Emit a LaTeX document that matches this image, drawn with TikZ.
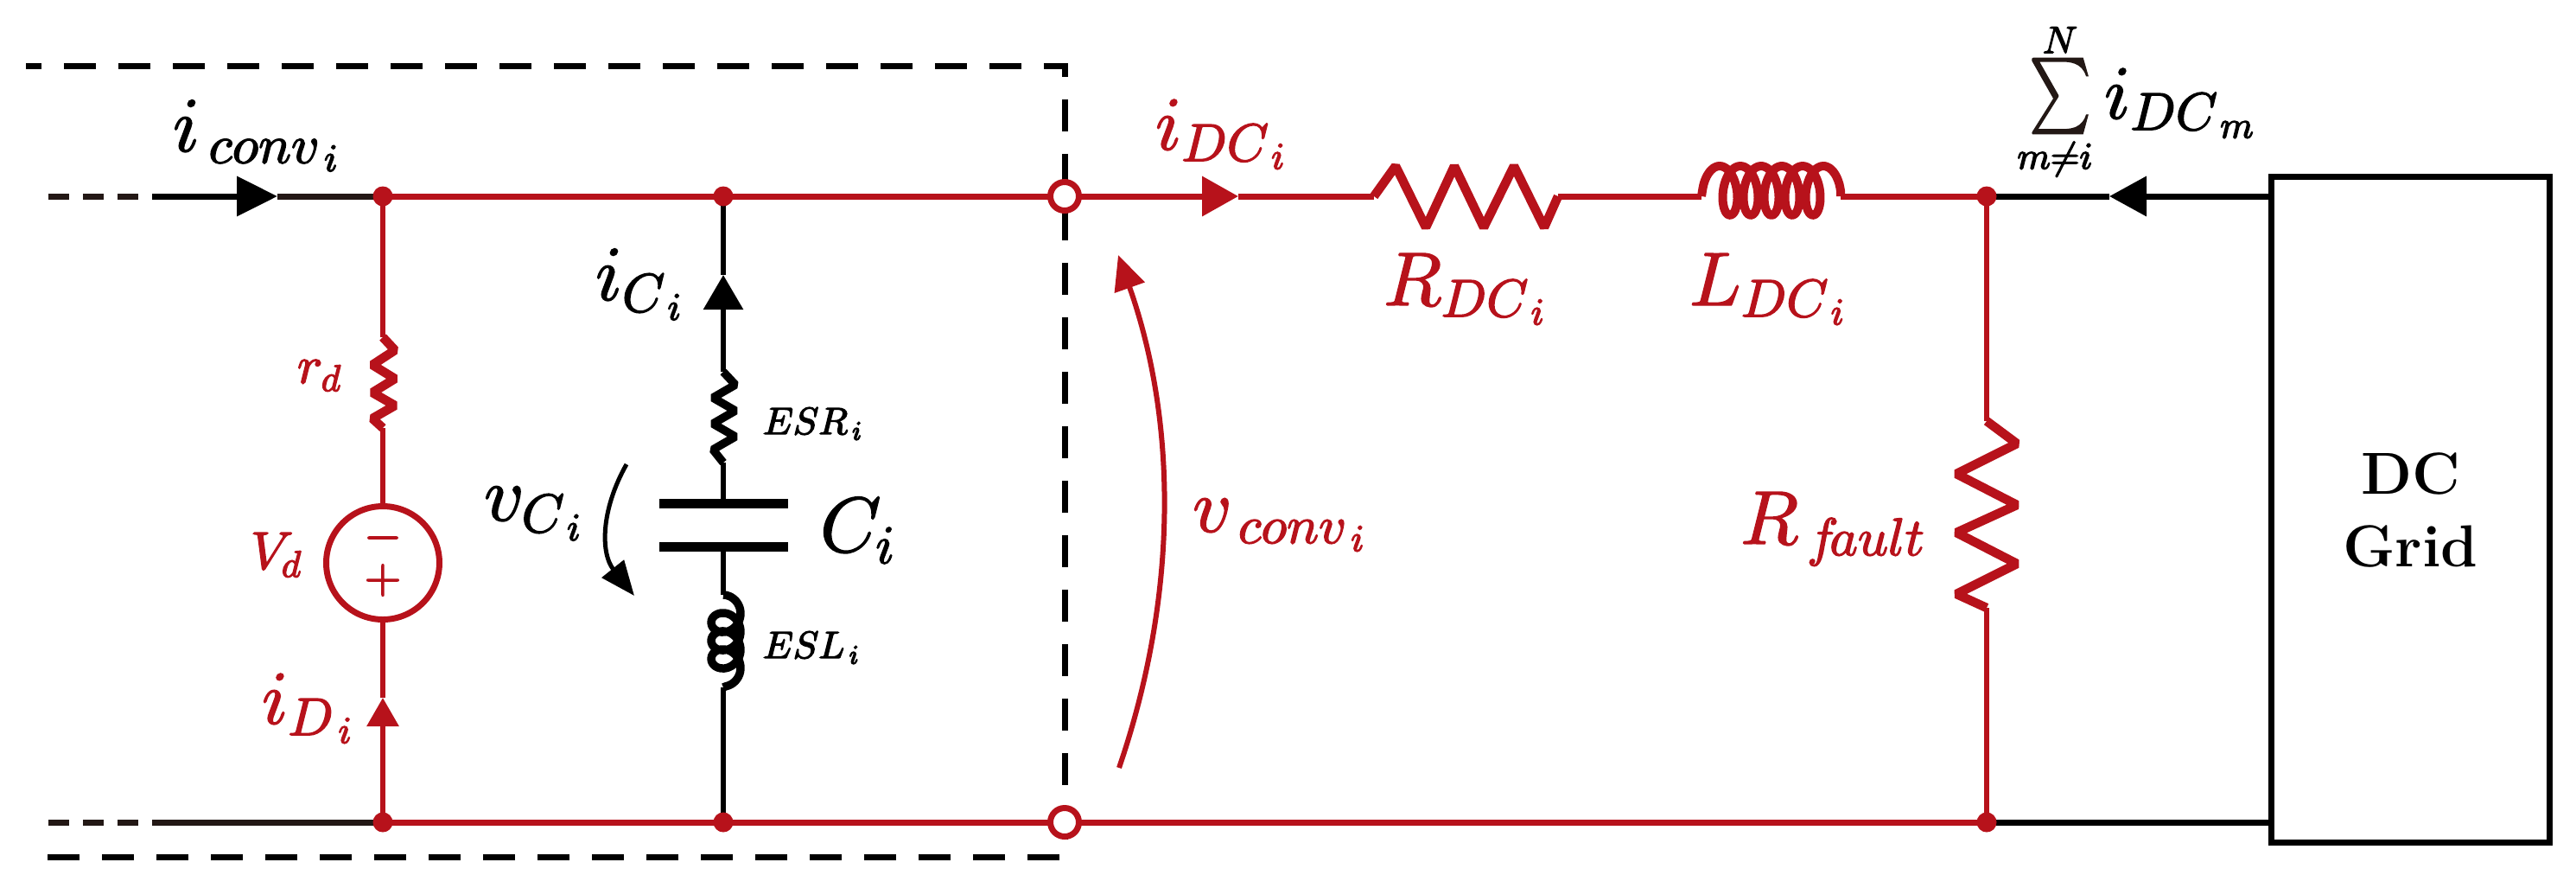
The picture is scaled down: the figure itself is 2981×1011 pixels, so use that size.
\RequirePackage{fix-cm}
\documentclass[tikz,border=0pt]{standalone}
\usepackage{amsmath}
\usetikzlibrary{positioning,arrows.meta}
\DeclareFontShape{OML}{cmm}{m}{it}{<->cmmi10}{\skewchar\font=127}
\definecolor{wirered}{RGB}{183,18,27}
\definecolor{wireblack}{RGB}{35,24,21}
\newcommand{\heavy}[1]{\special{pdf:code .4 w 2 Tr}#1\special{pdf:code 0 Tr 1 w}}

\begin{document}
\begin{tikzpicture}[
        x=.1mm,y=-.1mm,
        every node/.style = {outer sep=0pt,inner sep=0pt},
        wire/.style = {line width=.07cm,color=wirered},
        branch/.style = {line width=.06cm,color=wirered},
        bwire/.style = {line width=.07cm,color=wireblack},
        bbranch/.style = {line width=.06cm,color=black},
        part/.style = {line width=.105cm,color=wirered,line join=bevel},
        bpart/.style = {line width=.095cm,color=black,line join=bevel},
        frame/.style = {line width=.07cm,color=black,dash pattern=on .37cm off .26cm,dash phase=.19cm},
        stub/.style = {line width=.07cm,color=wireblack,dash pattern=on .24cm off .16cm},
        junction/.style = {circle,fill=wirered,minimum size=.23cm},
        port/.style = {circle,draw=wirered,fill=white,line width=.07cm,minimum size=.33cm},
        plate/.style = {line width=.11cm,color=black},
        bigred/.style = {anchor=base west,color=wirered,font=\fontsize{25}{30}\selectfont},
        bigblack/.style = {anchor=base west,color=black,font=\fontsize{25.6}{30}\selectfont},
        midred/.style = {anchor=base west,color=wirered,font=\fontsize{17.5}{21}\selectfont},
        smallblack/.style = {anchor=base west,color=black,font=\fontsize{12.5}{15}\selectfont},
        ]
        \useasboundingbox (0,0) rectangle (2981,1011);
        % terminals
        \coordinate (stub-top) at (56,227);
        \coordinate (solid-top) at (176,227);
        \coordinate (stub-bot) at (56,951);
        \coordinate (solid-bot) at (176,951);
        \coordinate (tip-conv) at (321,227);
        \coordinate (top-1) at (443,227);
        \coordinate (top-2) at (837,227);
        \coordinate (top-3) at (1232,227);
        \coordinate (top-4) at (2299,227);
        \coordinate (bot-1) at (443,951);
        \coordinate (bot-2) at (837,951);
        \coordinate (bot-3) at (1232,951);
        \coordinate (bot-4) at (2299,951);
        \coordinate (tip-c) at (837,318);
        \coordinate (tip-d) at (443,807);
        \coordinate (tip-dc) at (1433,227);
        \coordinate (tip-grid) at (2441,227);
        \coordinate (rd-a) at (443,390);
        \coordinate (rd-b) at (443,495);
        \coordinate (esr-a) at (837,430);
        \coordinate (esr-b) at (837,535);
        \coordinate (plate-a) at (837,582);
        \coordinate (plate-b) at (837,632);
        \coordinate (esl-a) at (837,688);
        \coordinate (esl-b) at (837,795);
        \coordinate (rdc-a) at (1590,227);
        \coordinate (rdc-b) at (1803,227);
        \coordinate (ldc-a) at (1969,227);
        \coordinate (ldc-b) at (2130,227);
        \coordinate (rf-a) at (2299,487);
        \coordinate (rf-b) at (2299,703);

        \node[circle,draw=wirered,line width=.07cm,minimum size=1.31cm] (source) at (443,651) {};
        \node[color=wirered,font=\fontsize{16}{19}\selectfont] (source-minus) at (443,622) {\heavy{$-$}};
        \node[color=wirered,font=\fontsize{16}{19}\selectfont] (source-plus) at (443,671) {\heavy{$+$}};
        \node[draw=black,line width=.07cm,minimum width=3.22cm,minimum height=7.70cm,align=center,
            font=\fontsize{19.5}{23.9}\selectfont\bfseries] (grid) at (2789.5,589.5) {DC\\Grid};

        % dashed frame
        \draw[frame] (30,76) -- (1232,76) -- (1232,991) -- (30,991);

        % wires
        \draw[stub] (stub-top) -- (solid-top);
        \draw[stub] (stub-bot) -- (solid-bot);
        \draw[bwire,-{Triangle[length=.47cm,width=.45cm]},black] (solid-top) -- (tip-conv);
        \draw[bwire] (tip-conv) -- (top-1);
        \draw[bwire] (solid-bot) -- (bot-1);
        \draw[wire] (top-1) -- (top-2) -- (top-3);
        \draw[wire,-{Triangle[length=.42cm,width=.45cm]}] (top-3) -- (tip-dc);
        \draw[wire] (tip-dc) -- (rdc-a);
        \draw[wire] (rdc-b) -- (ldc-a);
        \draw[wire] (ldc-b) -- (top-4);
        \draw[wire] (bot-1) -- (bot-2) -- (bot-3) -- (bot-4);
        \draw[line width=.07cm,-{Triangle[length=.43cm,width=.45cm]},black] (grid.west |- top-4) -- (tip-grid);
        \draw[line width=.07cm,black] (tip-grid) -- (top-4);
        \draw[line width=.07cm,black] (grid.west |- bot-4) -- (bot-4);
        \draw[branch] (top-1) -- (rd-a);
        \draw[branch] (rd-b) -- (source);
        \draw[branch] (source) -- (bot-1 |- tip-d);
        \draw[branch,-{Triangle[length=.33cm,width=.36cm]}] (bot-1) -- (tip-d);
        \draw[branch] (top-4) -- (rf-a);
        \draw[branch] (rf-b) -- (bot-4);
        \draw[bbranch,-{Triangle[length=.40cm,width=.45cm]}] (esr-a) -- (tip-c);
        \draw[bbranch] (tip-c) -- (top-2);
        \draw[bbranch] (esr-b) -- (plate-a);
        \draw[bbranch] (plate-b) -- (esl-a);
        \draw[bbranch] (esl-b) -- (bot-2);
        \draw[plate] (763,582) -- (912,582);
        \draw[plate] (763,632) -- (912,632);

        % resistors and inductors
        \draw[part] (rd-a) -- ++(14,15) -- ++(-26,17) -- ++(26,16) -- ++(-26,16) -- ++(26,15) -- ++(-26,15) -- (rd-b);
        \draw[bpart] (esr-a) -- ++(14,15) -- ++(-26,15) -- ++(26,15) -- ++(-26,15) -- ++(26,15) -- ++(-26,15) -- (esr-b);
        \draw[part] (rdc-a) -- (1615,192) -- (1650,263) -- (1683,192) -- (1717,263) -- (1752,192) -- (1787,263) -- (rdc-b);
        \draw[part] (rf-a) -- (2334,513) -- (2264,548) -- (2334,584) -- (2264,616) -- (2334,652) -- (2264,687) -- (rf-b);
        \draw[part,line width=.10cm,line join=round] (ldc-a) -- plot[smooth,samples=120,domain=-90:1890,variable=\t]
            ({1990+\t/360*24+14*sin(\t)},{220.5-28.5*cos(\t)}) -- (ldc-b);
        \draw[bpart,line join=round] (esl-a) -- plot[smooth,samples=90,domain=-90:1170,variable=\t]
            ({840+17*cos(\t)},{709.5+\t/360*21+16*sin(\t)}) -- (esl-b);

        % voltage arrows
        \draw[line width=.05cm,black,-{Triangle[length=.40cm,width=.32cm]}] (725,537) .. controls (695,590) and (695,640) .. (734,689);
        \draw[line width=.06cm,wirered,-{Triangle[length=.40cm,width=.36cm]}] (1295,888) .. controls (1363,690) and (1363,490) .. (1294,295);

        % dots
        \foreach \n in {top-1,top-2,top-4,bot-1,bot-2,bot-4}
            \node[junction] (dot-\n) at (\n) {};
        \node[port] (port-top) at (top-3) {};
        \node[port] (port-bot) at (bot-3) {};

        % labels
        \node[bigblack] (label-conv) at (200,175) {\heavy{$i_{\,conv_{\,i}}$}};
        \node[bigblack] (label-ic) at (689,347) {\heavy{$i_{C_{\,i}}$}};
        \node[bigblack] (label-vc) at (560,602) {\heavy{$v_{C_{\,i}}$}};
        \node[bigblack] (label-c) at (949,638) {\heavy{$C_{i}$}};
        \node[midred] (label-rd) at (344,443) {\heavy{$r_{d}$}};
        \node[midred] (label-vd) at (290,658) {\heavy{$V_{d}$}};
        \node[bigred] (label-id) at (303,837) {\heavy{$i_{D_{\,i}}$}};
        \node[smallblack] (label-esr) at (883,502) {\heavy{$ESR_{\,i}$}};
        \node[smallblack] (label-esl) at (883,761) {\heavy{$ESL_{\,i}$}};
        \node[bigred] (label-idc) at (1337,173) {\heavy{$i_{DC_{\,i}}$}};
        \node[bigred] (label-vconv) at (1380,615) {\heavy{$v_{\,conv_{\,i}}$}};
        \node[bigred] (label-rdc) at (1601,353) {\heavy{$R_{DC_{\,i}}$}};
        \node[bigred] (label-ldc) at (1955,353) {\heavy{$L_{DC_{\,i}}$}};
        \node[bigred] (label-rf) at (2014,629) {\heavy{$R_{\,f\!ault}$}};
        \node[color=wireblack,font=\fontsize{23}{28}\selectfont] (label-sum) at (2384,111) {\scalebox{.78}[1]{\heavy{$\sum$}}};
        \node[font=\fontsize{12.5}{15}\selectfont] (label-sum-top) [above = .06cm of label-sum] {\heavy{$N$}};
        \node[font=\fontsize{12.5}{15}\selectfont] (label-sum-bot) [below = .1cm of label-sum,xshift=-.06cm] {\heavy{$m{\neq}i$}};
        \node[anchor=base west,font=\fontsize{25}{30}\selectfont] (label-idcm) at (2435,137) {\heavy{$i_{DC_{\,m}}$}};
\end{tikzpicture}
\end{document}
